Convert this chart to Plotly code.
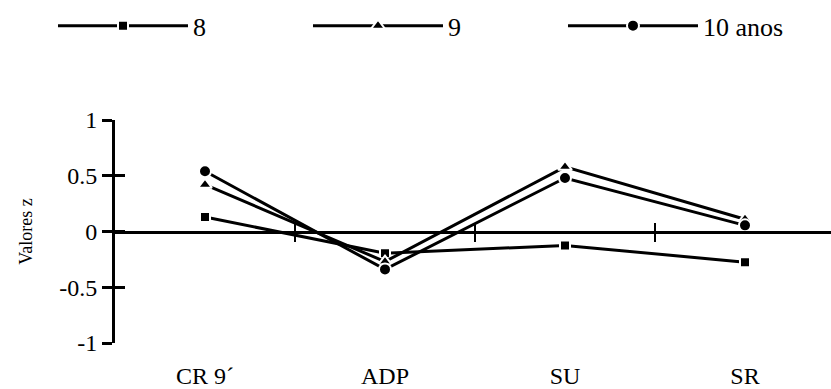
import plotly.graph_objects as go

categories = ["CR 9´", "ADP", "SU", "SR"]
series_names = ["8", "9", "10 anos"]
values_8 = [0.13, -0.195, -0.125, -0.275]
values_9 = [0.42, -0.27, 0.58, 0.11]
values_10 = [0.54, -0.34, 0.48, 0.055]
y_ticks = [-1, -0.5, 0, 0.5, 1]
y_ticktext = ["-1", "-0.5", "0", "0.5", "1"]

FONT = "Liberation Serif"

fig = go.Figure()
styles = [("square", 10), ("triangle-up", 12), ("circle", 12)]
for name, vals, (sym, size) in zip(series_names, [values_8, values_9, values_10], styles):
    fig.add_trace(go.Scatter(
        x=categories, y=vals, name=name, mode="lines+markers",
        line=dict(color="black", width=3),
        marker=dict(symbol=sym, size=size, color="black", line=dict(color="white", width=2)),
        cliponaxis=False,
    ))

# empty helper traces so the overlaid axes (zero line with crossing ticks) are drawn
for xa, ya in [("x2", "y"), ("x3", "y"), ("x", "y2")]:
    fig.add_trace(go.Scatter(x=[], y=[], xaxis=xa, yaxis=ya, showlegend=False, hoverinfo="skip"))

xr = [-0.5, -0.5 + 716 / 180]
fig.update_layout(
    width=831, height=389,
    margin=dict(l=115, r=0, t=120, b=46, autoexpand=False),
    paper_bgcolor="white", plot_bgcolor="white",
    font=dict(family=FONT, color="black", size=24),
    showlegend=True,
    legend=dict(
        orientation="h", x=-0.0866, xanchor="left", y=1.528, yanchor="top",
        font=dict(family=FONT, size=26, color="black"),
        itemwidth=130, entrywidth=110, entrywidthmode="pixels",
        bgcolor="rgba(0,0,0,0)",
    ),
    xaxis=dict(
        type="category", categoryorder="array", categoryarray=categories,
        range=xr, showline=False, showgrid=False, zeroline=False, ticks="",
        tickfont=dict(family=FONT, size=24), ticklabelstandoff=16,
    ),
    xaxis2=dict(
        overlaying="x", anchor="free", position=0.5, range=xr,
        showline=True, linecolor="black", linewidth=2.5, showgrid=False, zeroline=False,
        tickvals=[0.5, 1.5, 2.5], ticks="outside", ticklen=9, tickwidth=2, tickcolor="black",
        showticklabels=False,
    ),
    xaxis3=dict(
        overlaying="x", anchor="free", position=0.5, range=xr,
        showline=False, showgrid=False, zeroline=False,
        tickvals=[0.5, 1.5, 2.5], ticks="inside", ticklen=9, tickwidth=2, tickcolor="black",
        showticklabels=False,
    ),
    yaxis=dict(
        range=[-1, 1], showline=True, linecolor="black", linewidth=3, showgrid=False, zeroline=False,
        tickvals=y_ticks, ticktext=y_ticktext, ticks="outside", ticklen=10, tickwidth=3, tickcolor="black",
        tickfont=dict(family=FONT, size=24),
        title=dict(text="Valores z", font=dict(family=FONT, size=18), standoff=22),
    ),
    yaxis2=dict(
        overlaying="y", anchor="x", range=[-1, 1], showline=False, showgrid=False, zeroline=False,
        tickvals=y_ticks, ticks="inside", ticklen=10, tickwidth=3, tickcolor="black",
        showticklabels=False,
    ),
)

fig.write_html("out.html")
